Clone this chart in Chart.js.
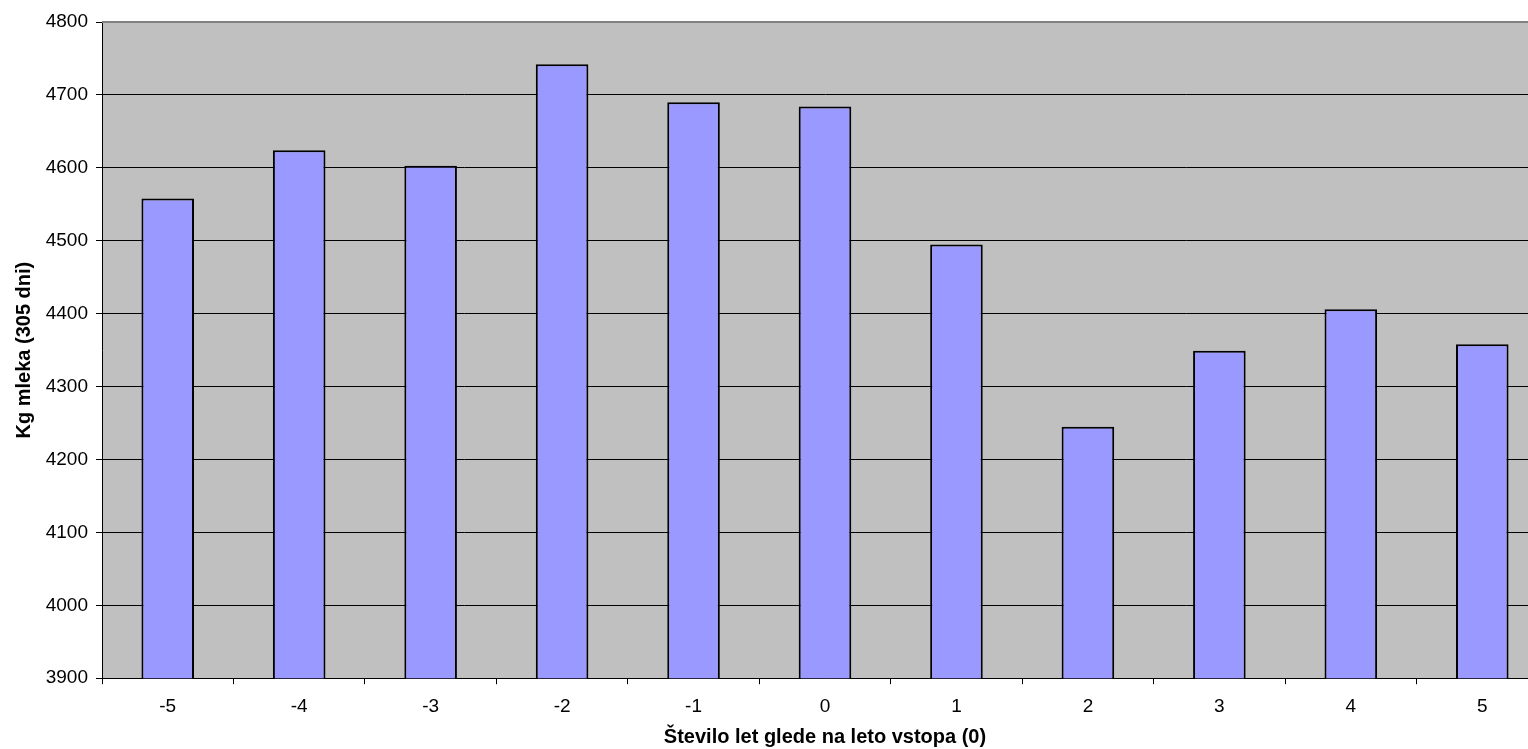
<!DOCTYPE html>
<html>
<head>
<meta charset="utf-8">
<script src="https://cdn.jsdelivr.net/npm/chart.js@4/dist/chart.umd.min.js"></script>
<style>
  html, body { margin: 0; padding: 0; background: #fff; overflow: hidden; }
  #wrap { width: 1548px; height: 749px; }
</style>
</head>
<body>
<div id="wrap"><canvas id="myChart" width="1548" height="749"></canvas></div>
<script>
// podatki
const labels = ['-5', '-4', '-3', '-2', '-1', '0', '1', '2', '3', '4', '5'];
const milk = [4558, 4624, 4603, 4742, 4690, 4684, 4495, 4245, 4349, 4406, 4358];
const yMin = 3900;
const yMax = 4800;
const yStep = 100;

const xTitle = 'Število let glede na leto vstopa (0)';
const yTitle = 'Kg mleka (305 dni)';

// sivo ozadje za graf
const plotBg = {
    id: 'plotBg',
    beforeDraw(chart) {
        const { ctx, chartArea: a } = chart;
        ctx.save();
        ctx.fillStyle = '#c0c0c0';
        ctx.fillRect(a.left, a.top, a.right - a.left, a.bottom - a.top);
        ctx.restore();
    },
    afterDatasetsDraw(chart) {
        const { ctx, chartArea: a } = chart;
        ctx.save();
        ctx.strokeStyle = '#808080';
        ctx.lineWidth = 2;
        ctx.beginPath();
        ctx.moveTo(a.left, a.top);
        ctx.lineTo(a.right, a.top);
        ctx.stroke();
        ctx.restore();
    }
};

const data = {
    labels: labels,
    datasets: [
        {
            data: milk,
            backgroundColor: '#9999ff',
            borderColor: '#000000',
            borderWidth: 2,
            categoryPercentage: 1.0,
            barPercentage: 0.4,
        }
    ]
};

const config = {
    type: 'bar',
    data,
    plugins: [plotBg],
    options: {
        responsive: false,
        animation: false,
        events: [],
        layout: { padding: { top: 22, left: 0, right: 0, bottom: 4 } },
        plugins: {
            legend: { display: false },
            tooltip: { enabled: false },
        },
        scales: {
            x: {
                offset: true,
                grid: {
                    offset: true,
                    drawOnChartArea: false,
                    drawTicks: true,
                    tickLength: 6,
                    color: '#000',
                },
                border: { color: '#000', width: 1 },
                ticks: {
                    color: '#000',
                    font: { family: 'Liberation Sans, Arial', size: 19 },
                    padding: 11,
                    maxRotation: 0,
                },
                title: {
                    display: true,
                    text: xTitle,
                    color: '#000',
                    font: { family: 'Liberation Sans, Arial', size: 20, weight: 'bold', lineHeight: 0.8 },
                    padding: { top: 0, bottom: 0 },
                },
            },
            y: {
                min: yMin,
                max: yMax,
                afterFit(scale) { scale.width = 102; },
                grid: {
                    color: (c) => c.tick && c.tick.value === yMax ? 'rgba(0,0,0,0)' : '#000',
                    tickColor: '#000',
                    tickLength: 6,
                    lineWidth: 1,
                },
                border: { color: '#000', width: 1 },
                ticks: {
                    stepSize: yStep,
                    color: '#000',
                    font: { family: 'Liberation Sans, Arial', size: 19 },
                    padding: 8,
                    callback: (v) => String(v),
                },
                title: {
                    display: true,
                    text: yTitle,
                    color: '#000',
                    font: { family: 'Liberation Sans, Arial', size: 20, weight: 'bold' },
                    padding: { top: 12, bottom: 0 },
                },
            }
        }
    }
};

window.addEventListener('load', function()
{
    var myChart = new Chart(
        document.getElementById('myChart'),
        config
    );
});
</script>
</body>
</html>
